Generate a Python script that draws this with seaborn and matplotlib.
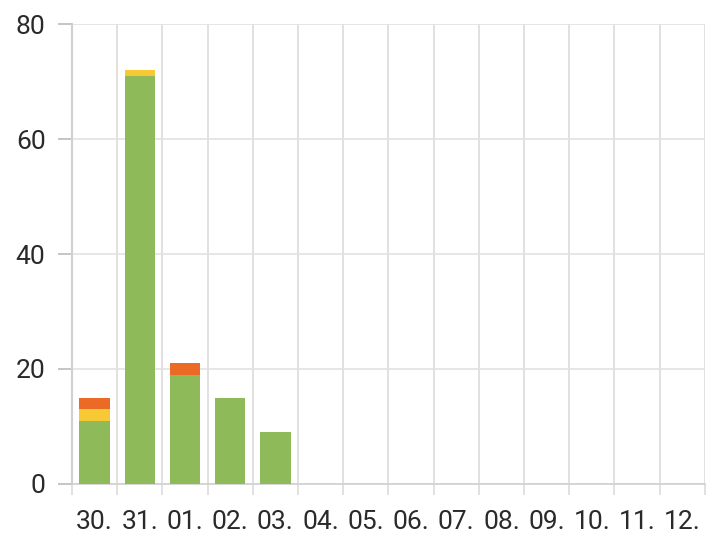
import pandas as pd
import seaborn as sns
import matplotlib.pyplot as plt

# Daten
tage = ['30.', '31.', '01.', '02.', '03.', '04.', '05.', '06.', '07.', '08.', '09.', '10.', '11.', '12.']
gruen = [11, 71, 19, 15, 9, 0, 0, 0, 0, 0, 0, 0, 0, 0]
gelb = [2, 1, 0, 0, 0, 0, 0, 0, 0, 0, 0, 0, 0, 0]
orange = [2, 0, 2, 0, 0, 0, 0, 0, 0, 0, 0, 0, 0, 0]

df = pd.DataFrame({'tag': tage, 'gruen': gruen, 'gelb': gelb, 'orange': orange})
df['stufe2'] = df['gruen'] + df['gelb']
df['stufe3'] = df['stufe2'] + df['orange']

sns.set_style('white')
plt.rcParams['font.family'] = ['Roboto', 'DejaVu Sans']

fig = plt.figure(figsize=(7.12, 5.37), dpi=100)
ax = fig.add_axes([0.101, 0.099, 0.889, 0.856])

# gestapelt: von oben nach unten zeichnen
sns.barplot(data=df, x='tag', y='stufe3', order=tage, color='#ea6a26', width=0.67,
            saturation=1, ax=ax, zorder=3)
sns.barplot(data=df, x='tag', y='stufe2', order=tage, color='#f7c934', width=0.67,
            saturation=1, ax=ax, zorder=3)
sns.barplot(data=df, x='tag', y='gruen', order=tage, color='#8fba5a', width=0.67,
            saturation=1, ax=ax, zorder=3)
for p in ax.patches:
    p.set_linewidth(0)

ax.set_xlim(-0.5, len(tage) - 0.5)
ax.set_ylim(0, 80)
ax.set_yticks([0, 20, 40, 60, 80])
ax.set_xlabel('')
ax.set_ylabel('')

# Gitter an Kategoriegrenzen
ax.set_xticks([i - 0.5 for i in range(len(tage) + 1)], minor=True)
ax.grid(which='minor', axis='x', color='#dcdcdc', linewidth=1.2, zorder=0)
ax.grid(which='major', axis='y', color='#e2e2e2', linewidth=1.2, zorder=0)

for s in ['top', 'right']:
    ax.spines[s].set_visible(False)
ax.spines['left'].set_color('#d0d0d0')
ax.spines['left'].set_linewidth(1.5)
ax.spines['bottom'].set_color('#d0d0d0')
ax.spines['bottom'].set_linewidth(1.2)

ax.tick_params(axis='y', which='major', left=True, length=10, width=1.2, color='#bbbbbb',
               labelsize=19, labelcolor='#2a2a2a', pad=9)
ax.tick_params(axis='x', which='major', bottom=False, length=0, labelsize=19,
               labelcolor='#2a2a2a', pad=19)
ax.tick_params(axis='x', which='minor', bottom=True, length=8, width=1.2, color='#dcdcdc')

fig.savefig('out.png', dpi=100)
